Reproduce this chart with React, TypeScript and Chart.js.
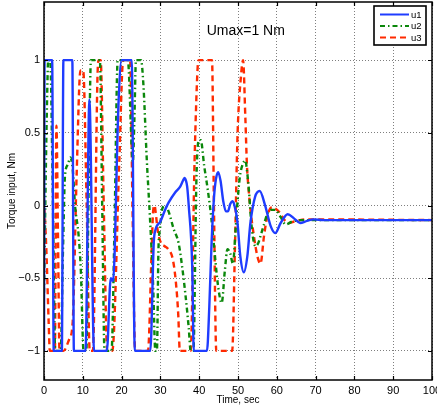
import React, { useEffect, useRef } from "react";
import { Chart, registerables } from "chart.js";

Chart.register(...registerables);

const X_MIN = 0;
const X_MAX = 100;
const Y_MIN = -1.2;
const Y_MAX = 1.4;
const X_TICKS = [0, 10, 20, 30, 40, 50, 60, 70, 80, 90, 100];
const Y_TICKS = [-1, -0.5, 0, 0.5, 1];
const X_TITLE = "Time, sec";
const Y_TITLE = "Torque input, Nm";
const NOTE_TEXT = "Umax=1 Nm";
const NOTE_AT = [52, 1.2];
const SERIES_LABELS = ["u1", "u2", "u3"];

const U1: [number, number][] = [
  [0, -1], [0.15, 1], [2.1, 1], [2.5, -1], [4.6, -1], [5.0, 1], [7.3, 1], [7.7, -1],
  [10.7, -1], [11.7, 0.73], [12.9, -1], [16.2, -1], [17.2, -0.5], [17.8, -0.52],
  [19.2, 0.7], [20.0, 1], [22.6, 1], [23.4, -1], [27.4, -1], [28.3, -0.25],
  [28.7, -0.17], [30.0, -0.11], [31.2, -0.03], [32.1, 0.02], [33.8, 0.09],
  [35.1, 0.13], [35.8, 0.17], [36.2, 0.19], [36.6, 0.17], [36.9, 0.13], [37.3, 0.0],
  [38.2, -0.42], [38.6, -1], [42.0, -1], [42.6, -0.7], [43.2, -0.25], [43.8, 0.05],
  [44.3, 0.18], [44.9, 0.23], [45.5, 0.17], [46.2, 0.03], [46.9, -0.04], [47.4, -0.04],
  [48.0, 0.01], [48.5, 0.03], [49.0, 0.01], [49.8, -0.1], [50.6, -0.35], [51.5, -0.46],
  [52.4, -0.35], [53.2, -0.12], [54.4, 0.06], [55.6, 0.1], [57.0, 0.0], [58.4, -0.14],
  [59.6, -0.19], [61.0, -0.12], [62.8, -0.06], [64.5, -0.09], [66.0, -0.12],
  [67.8, -0.105], [69.5, -0.095], [72, -0.1], [100, -0.1],
];

const U2: [number, number][] = [
  [0, -0.6], [0.7, 0.6], [1.1, 1], [1.6, 1], [2.2, 0.2], [2.9, -1], [4.3, -1],
  [4.9, -0.3], [5.4, 0.2], [6.1, 0.28], [6.8, 0.33], [7.4, 0.25], [8.0, 0.0],
  [8.9, -0.2], [9.5, -0.45], [10.2, -1], [10.9, -1], [11.5, 0.1], [12.1, 1],
  [14.4, 1], [15.0, 0.0], [15.6, -1], [17.4, -1], [18.2, -0.1], [19.0, 1],
  [21.6, 1], [22.9, 0.3], [23.3, 0.6], [23.7, 1], [25.0, 1], [25.6, 0.84],
  [26.5, 0.31], [27.3, -0.08], [28.1, -0.53], [28.7, -1], [29.1, -1], [29.5, -0.3],
  [29.9, -0.16], [30.4, -0.03], [31.3, 0.0], [32.1, -0.04], [33.4, -0.16],
  [34.7, -0.26], [35.6, -0.42], [36.4, -0.6], [37.3, -0.84], [37.8, -1], [38.5, -1],
  [39.3, 0.2], [39.9, 0.45], [40.4, 0.45], [41.3, 0.27], [42.2, 0.11], [43.1, -0.08],
  [43.9, -0.3], [44.8, -0.54], [45.8, -0.67], [46.6, -0.45], [47.3, -0.3],
  [48.0, -0.33], [48.7, -0.4], [49.3, -0.2], [49.8, 0.0], [50.5, 0.2], [51.3, 0.29],
  [51.9, 0.31], [52.4, 0.22], [52.8, 0.11], [53.3, -0.08], [53.8, -0.21],
  [54.5, -0.28], [55.2, -0.26], [55.8, -0.21], [56.7, -0.13], [57.5, -0.06],
  [58.5, -0.03], [59.7, -0.03], [61, -0.08], [62.3, -0.13], [64, -0.11], [66, -0.1],
  [100, -0.1],
];

const U3: [number, number][] = [
  [0, 0.05], [0.6, -0.3], [1.2, -0.8], [1.5, -1], [2.8, -1], [3.2, 0.55], [3.6, -0.2],
  [4.0, -1], [5.0, -1], [6.5, -0.92], [7.4, -0.8], [8.4, 0.2], [9.4, 0.93],
  [10.1, 0.93], [11.0, 0.0], [11.8, -1], [12.6, -1], [13.8, 0.9], [14.1, 1],
  [14.6, 1], [15.4, 0.0], [16.3, -1], [17.6, -1], [19.4, 0.3], [20.4, 1], [22.2, 1],
  [22.8, 0.0], [23.5, -1], [26.8, -1], [27.7, -0.35], [28.1, -0.05], [28.5, 0.0],
  [28.8, -0.05], [29.3, -0.17], [30.2, -0.26], [31.1, -0.28], [32.0, -0.3],
  [33.2, -0.37], [34.0, -0.53], [34.6, -0.75], [35.0, -1], [37.8, -1], [38.8, 0.3],
  [39.6, 0.95], [39.9, 1], [43.3, 1], [43.8, 0.0], [44.4, -1], [48.5, -1],
  [49.2, -0.3], [49.9, 0.5], [50.8, 0.9], [51.3, 1], [51.9, 0.6], [52.3, 0.28],
  [52.8, 0.09], [53.3, -0.05], [54.1, -0.21], [55.0, -0.35], [55.8, -0.4],
  [56.7, -0.21], [57.6, -0.07], [58.8, -0.01], [59.6, -0.02], [60.8, -0.05],
  [62.0, -0.1], [63.1, -0.12], [64.5, -0.11], [66.0, -0.1], [68, -0.095], [100, -0.1],
];

const FONT = "'Liberation Sans', Arial, Helvetica, sans-serif";
const COLORS = ["#1f3cff", "#0a870a", "#ff2a00"];
const DASHES: number[][] = [[], [5, 3, 1.5, 3], [6, 4]];

const fmt = (v: number) => (v < 0 ? "\u2212" + String(Math.abs(v)) : String(v));

const framePlugin = {
  id: "matlabFrame",
  afterDatasetsDraw(chart: any) {
    const { ctx, chartArea: a, scales } = chart;
    const L = Math.round(a.left), R = Math.round(a.right), T = Math.round(a.top), B = Math.round(a.bottom);
    ctx.save();
    ctx.strokeStyle = "#000";
    ctx.lineWidth = 1.5;
    ctx.setLineDash([]);
    ctx.strokeRect(L, T, R - L, B - T);
    ctx.lineWidth = 1.2;
    const tl = 4;
    ctx.beginPath();
    X_TICKS.forEach((v) => {
      const x = Math.round(scales.x.getPixelForValue(v)) + 0.5;
      ctx.moveTo(x, B); ctx.lineTo(x, B - tl);
      ctx.moveTo(x, T); ctx.lineTo(x, T + tl);
    });
    Y_TICKS.forEach((v) => {
      const y = Math.round(scales.y.getPixelForValue(v)) + 0.5;
      ctx.moveTo(L, y); ctx.lineTo(L + tl, y);
      ctx.moveTo(R, y); ctx.lineTo(R - tl, y);
    });
    ctx.stroke();
    ctx.restore();
  },
  afterDraw(chart: any) {
    const { ctx, chartArea: a, scales } = chart;
    ctx.save();
    // annotation
    ctx.fillStyle = "#000";
    ctx.font = `14px ${FONT}`;
    ctx.textAlign = "center";
    ctx.textBaseline = "middle";
    ctx.fillText(NOTE_TEXT, scales.x.getPixelForValue(NOTE_AT[0]), scales.y.getPixelForValue(NOTE_AT[1]));
    // legend
    const bw = 52, bh = 39;
    const bx = Math.round(a.right) - 58, by = Math.round(a.top) + 4;
    ctx.fillStyle = "#fff";
    ctx.fillRect(bx, by, bw, bh);
    ctx.strokeStyle = "#000";
    ctx.lineWidth = 1.6;
    ctx.setLineDash([]);
    ctx.strokeRect(bx, by, bw, bh);
    ctx.font = `9.5px ${FONT}`;
    ctx.textAlign = "left";
    chart.data.datasets.forEach((ds: any, i: number) => {
      const y = by + 8.5 + i * 11.5;
      ctx.strokeStyle = ds.borderColor;
      ctx.lineWidth = 2;
      ctx.setLineDash(ds.borderDash || []);
      ctx.beginPath();
      ctx.moveTo(bx + 6, y);
      ctx.lineTo(bx + 35, y);
      ctx.stroke();
      ctx.setLineDash([]);
      ctx.fillStyle = "#000";
      ctx.fillText(ds.label, bx + 37, y + 0.5);
    });
    ctx.restore();
  },
};

export default function App() {
  const ref = useRef<HTMLCanvasElement | null>(null);
  useEffect(() => {
    if (!ref.current) return;
    const series = [U1, U2, U3];
    const chart = new Chart(ref.current, {
      type: "line",
      data: {
        datasets: series.map((s, i) => ({
          label: SERIES_LABELS[i],
          data: s.map(([x, y]) => ({ x, y })),
          borderColor: COLORS[i],
          backgroundColor: COLORS[i],
          borderWidth: 2.4,
          borderDash: DASHES[i],
          pointRadius: 0,
          fill: false,
          cubicInterpolationMode: "monotone" as const,
          borderCapStyle: "butt" as const,
          borderJoinStyle: "round" as const,
        })),
      },
      options: {
        animation: false,
        responsive: false,
        devicePixelRatio: 1,
        layout: { padding: { top: 2, right: 5, left: 0, bottom: 0 } },
        plugins: { legend: { display: false }, tooltip: { enabled: false } },
        scales: {
          x: {
            type: "linear",
            min: X_MIN,
            max: X_MAX,
            afterBuildTicks: (s: any) => { s.ticks = X_TICKS.map((v) => ({ value: v })); },
            afterFit: (s: any) => { s.height = 29; s.paddingLeft = 0; s.paddingRight = 0; },
            grid: { color: "rgba(0,0,0,0.5)", lineWidth: 1, drawTicks: false },
            border: { display: false, dash: [1, 2] },
            ticks: { padding: 4, color: "#000", font: { family: FONT, size: 11 }, maxRotation: 0, autoSkip: false, callback: (v: any) => fmt(Number(v)) },
            title: { display: true, text: X_TITLE, color: "#000", font: { family: FONT, size: 10 }, padding: { top: 0, bottom: 3 } },
          },
          y: {
            type: "linear",
            min: Y_MIN,
            max: Y_MAX,
            afterBuildTicks: (s: any) => { s.ticks = Y_TICKS.map((v) => ({ value: v })); },
            afterFit: (s: any) => { s.width = 44; s.paddingTop = 0; s.paddingBottom = 0; },
            grid: { color: "rgba(0,0,0,0.5)", lineWidth: 1, drawTicks: false },
            border: { display: false, dash: [1, 2] },
            ticks: { padding: 4, color: "#000", font: { family: FONT, size: 11 }, autoSkip: false, callback: (v: any) => fmt(Number(v)) },
            title: { display: true, text: Y_TITLE, color: "#000", font: { family: FONT, size: 10 }, padding: { top: 6, bottom: 0 } },
          },
        },
      },
      plugins: [framePlugin],
    });
    return () => chart.destroy();
  }, []);
  return (
    <div style={{ position: "fixed", left: 0, top: 0, width: 437, height: 409, background: "#fff" }}>
      <canvas ref={ref} width={437} height={409} style={{ display: "block" }} />
    </div>
  );
}
